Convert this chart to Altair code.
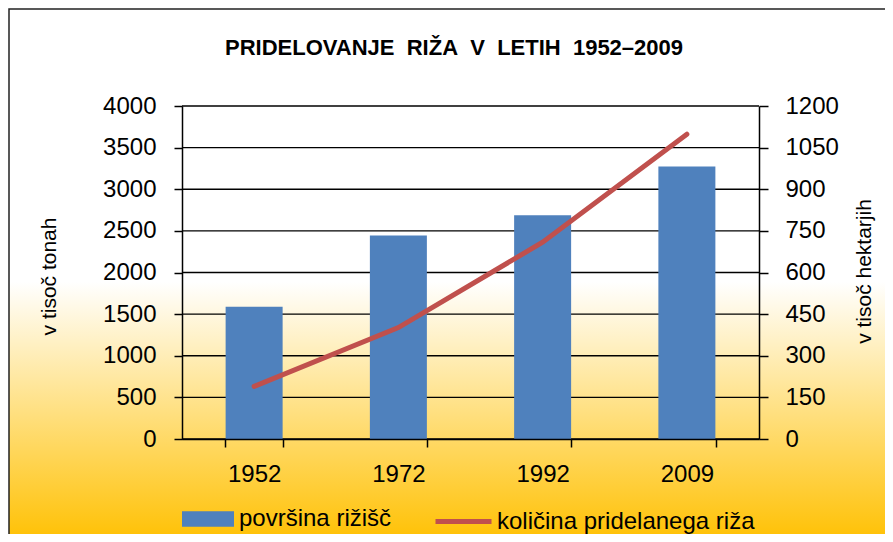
import altair as alt
import pandas as pd

years = ["1952", "1972", "1992", "2009"]
area_kha = [477, 733, 806, 982]          # površina rižišč (v tisoč hektarjih, right axis)
prod_kt = [632, 1338, 2364, 3661]        # količina pridelanega riža (v tisoč tonah, left axis)
left_ticks = [0, 500, 1000, 1500, 2000, 2500, 3000, 3500, 4000]
right_ticks = [0, 150, 300, 450, 600, 750, 900, 1050, 1200]
series_bar = "površina rižišč"
series_line = "količina pridelanega riža"
title_text = "PRIDELOVANJE\u00a0 RIŽA\u00a0 V\u00a0 LETIH\u00a0 1952–2009"

W, H = 577, 333
PL, PT, PR, PB = 174, 98, 126, 95
FONT = "Liberation Sans"

df = pd.DataFrame({
    "year": years,
    "area": area_kha,
    "prod": prod_kt,
    "sb": [series_bar] * 4,
    "sl": [series_line] * 4,
})
grid_df = pd.DataFrame({"g": left_ticks})
bg_df = pd.DataFrame({"a": [0]})

xenc = alt.X("year:N", title=None, sort=years,
             scale=alt.Scale(paddingInner=0.6, paddingOuter=0.3),
             axis=alt.Axis(tickBand="extent", labelFontSize=24, labelPadding=15,
                           tickSize=8, domainColor="#000", tickColor="#000",
                           domainWidth=1.5, tickWidth=1.5, labelColor="#000",
                           labelAngle=0, zindex=1, grid=False, labelFont=FONT))

bg = alt.Chart(bg_df).mark_rect(
    clip=False,
    color=alt.Gradient(
        gradient="linear",
        stops=[alt.GradientStop(color="#FFFFFF", offset=0),
               alt.GradientStop(color="#FFFFFF", offset=0.51),
               alt.GradientStop(color="#FFC000", offset=1)],
        x1=0, y1=0, x2=0, y2=1),
    stroke="#222", strokeWidth=1.5,
).encode(x=alt.value(-PL + 1), x2=alt.value(W + PR + 20),
         y=alt.value(-PT + 1), y2=alt.value(H + PB + 10))

title = alt.Chart(bg_df).mark_text(
    text=title_text, fontSize=22, fontWeight="bold", font=FONT, color="#000",
    align="center", baseline="middle", clip=False,
).encode(x=alt.value(272), y=alt.value(-58))

grid = alt.Chart(grid_df).mark_rule(color="#000", strokeWidth=1.3).encode(
    y=alt.Y("g:Q", scale=alt.Scale(domain=[0, 4000]), axis=None)
)

bars = alt.Chart(df).mark_bar(size=57).encode(
    x=xenc,
    y=alt.Y("area:Q", scale=alt.Scale(domain=[0, 1200]),
            axis=alt.Axis(orient="right", values=right_ticks, format="d",
                          labelFontSize=24,
                          labelPadding=17, tickSize=9, domainColor="#000",
                          tickColor="#000", domainWidth=1.5, tickWidth=1.5,
                          labelColor="#000", grid=False, zindex=1, labelFont=FONT,
                          title="v tisoč hektarjih", titleFontSize=21,
                          titleFontWeight="normal", titleFont=FONT, titleColor="#000",
                          titleAngle=270, titleX=105, titleY=165,
                          titleAlign="center", titleBaseline="middle")),
    color=alt.Color("sb:N", scale=alt.Scale(domain=[series_bar], range=["#4F81BD"]),
                    legend=alt.Legend(orient="none", legendX=0, legendY=387,
                                      title=None, padding=0, labelLimit=400,
                                      symbolType="M-1,-0.3H1V0.3H-1Z", symbolSize=2704,
                                      symbolStrokeWidth=0, symbolOpacity=1,
                                      labelFontSize=24, labelFont=FONT,
                                      labelColor="#000", labelOffset=5)),
)

line = alt.Chart(df).mark_line(strokeWidth=5, strokeCap="round").encode(
    x=xenc,
    y=alt.Y("prod:Q", scale=alt.Scale(domain=[0, 4000]),
            axis=alt.Axis(orient="left", values=left_ticks, format="d",
                          labelFontSize=24,
                          labelPadding=18, tickSize=8, domainColor="#000",
                          tickColor="#000", domainWidth=1.5, tickWidth=1.5,
                          labelColor="#000", grid=False, zindex=1, labelFont=FONT,
                          title="v tisoč tonah", titleFontSize=21,
                          titleFontWeight="normal", titleFont=FONT, titleColor="#000",
                          titleAngle=270, titleX=-133, titleY=170,
                          titleAlign="center", titleBaseline="middle")),
    stroke=alt.Stroke("sl:N", scale=alt.Scale(domain=[series_line], range=["#C0504D"]),
                      legend=alt.Legend(orient="none", legendX=251, legendY=385,
                                        title=None, padding=0, labelLimit=400,
                                        symbolType="M-1,0H1", symbolSize=3136,
                                        symbolStrokeWidth=5, symbolOpacity=1,
                                        labelFontSize=24, labelFont=FONT,
                                        labelColor="#000", labelOffset=3)),
)

chart = alt.layer(bg, title, grid, bars, line).resolve_scale(
    y="independent", color="independent", stroke="independent"
).properties(
    width=W, height=H,
    autosize=alt.AutoSizeParams(type="none"),
    padding={"left": PL, "top": PT, "right": PR, "bottom": PB},
).configure_view(stroke=None)

chart.save("out.html", embed_options={"renderer": "svg", "actions": False})
